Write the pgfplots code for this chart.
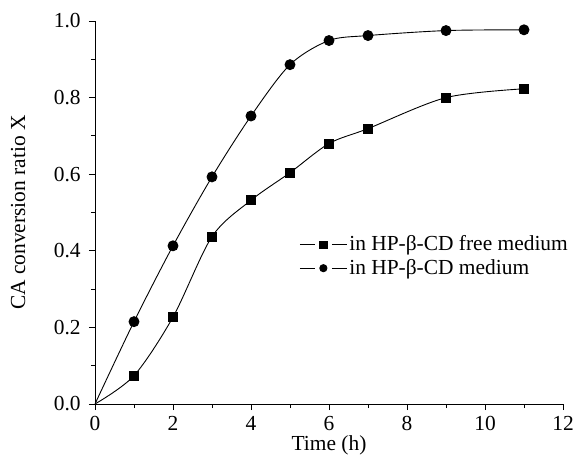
\documentclass[border=0pt]{standalone}
\usepackage{fontspec}
\setmainfont{Liberation Serif}
\usepackage{pgfplots}
\pgfplotsset{compat=1.18}
\begin{document}
\fontsize{21.5}{25}\selectfont
\begin{tikzpicture}
\begin{axis}[
  scale only axis,
  width=468bp, height=383bp,
  xmin=0, xmax=12, ymin=0, ymax=1.0,
  axis lines=left,
  axis line style={-, line width=1pt},
  tick align=outside,
  tick style={black, line width=0.8pt},
  major tick length=6bp, minor tick length=4bp,
  xtick={0,2,...,12}, ytick={0,0.2,...,1.0},
  minor x tick num=1, minor y tick num=1,
  /pgf/number format/assume math mode=true,
  yticklabel style={/pgf/number format/fixed, /pgf/number format/fixed zerofill, /pgf/number format/precision=1, xshift=-1bp},
  xticklabel style={/pgf/number format/fixed, yshift=1bp},
  ticklabel style={font=\fontsize{21.5}{25}\selectfont},
  label style={font=\fontsize{21.5}{25}\selectfont},
  xlabel={Time (h)},
  ylabel={CA conversion ratio X},
  xlabel style={yshift=10bp},
  ylabel style={yshift=14bp},
  legend style={draw=none, fill=none, at={(rel axis cs:0.43,0.385)}, anchor=west, font=\fontsize{21.5}{25}\selectfont, row sep=1bp},
  legend cell align=left,
  legend image code/.code={%
    \draw[#1] (0bp,0bp) -- (15bp,0bp);
    \draw[#1] (32bp,0bp) -- (47bp,0bp);
    \draw[#1, mark indices={1}, mark size=3.6bp] plot coordinates {(23.5bp,0bp)};
  },
]
\addplot[black, line width=0.9pt, smooth, tension=0.5, mark=square*, mark size=4.5bp, mark indices={2,3,4,5,6,7,8,9,10}, mark options={solid}] coordinates {
(0,0) (1,0.074) (2,0.227) (3,0.437) (4,0.532) (5,0.604) (6,0.680) (7,0.719) (9,0.800) (11,0.823)
};
\addlegendentry{in HP-β-CD free medium}
\addplot[black, line width=0.9pt, smooth, tension=0.5, mark=*, mark size=5bp, mark indices={2,3,4,5,6,7,8,9,10}] coordinates {
(0,0) (1,0.215) (2,0.413) (3,0.593) (4,0.752) (5,0.886) (6,0.949) (7,0.962) (9,0.975) (11,0.977)
};
\addlegendentry{in HP-β-CD medium}
\end{axis}
\pgfresetboundingbox
\path[use as bounding box] ([xshift=-95bp,yshift=-55bp]current axis.south west) rectangle ([xshift=12bp,yshift=21bp]current axis.north east);
\end{tikzpicture}
\end{document}
